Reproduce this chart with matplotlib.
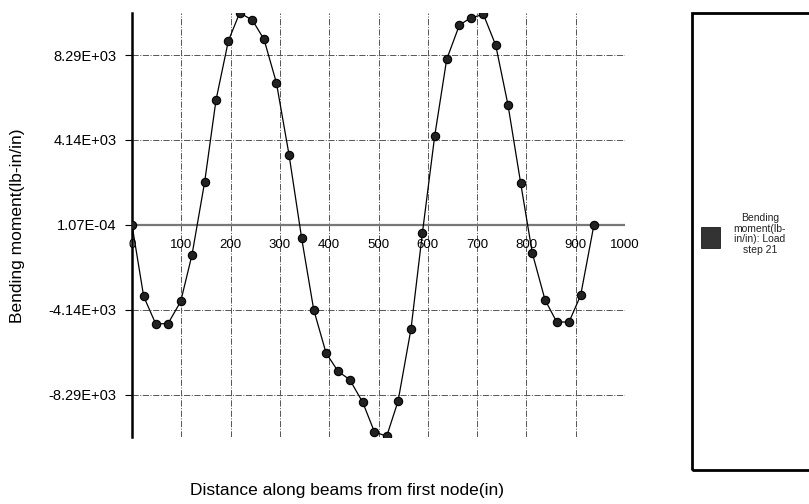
import matplotlib
matplotlib.use("Agg")
import matplotlib.pyplot as plt
from matplotlib.patches import Rectangle

plt.rcParams['font.family'] = ['Liberation Sans', 'DejaVu Sans']

# distance along beams (in) and bending moment (lb-in/in), load step 21
distance = [0, 23.7, 48, 73, 98.8, 121.7, 147.5, 170.4, 195.5, 218.5,
            244.2, 267.8, 292.9, 318.5, 344.2, 368.6, 393.6, 418, 441.6, 468,
            491.7, 516.6, 539.6, 566, 589, 614, 638.3, 664, 687, 712.8,
            737.7, 762.7, 788.4, 812, 837.7, 861.5, 886.4, 910, 937]
moment = [0, -3496, -4828, -4828, -3740, -1463, 2111, 6096, 8988, 10353,
          9997, 9055, 6939, 3428, -665, -4145, -6257, -7154, -7558, -8665,
          -10110, -10323, -8616, -5071, -405, 4340, 8080, 9753, 10109, 10274,
          8777, 5852, 2033, -1380, -3657, -4745, -4745, -3447, 0]

xticks = [0, 100, 200, 300, 400, 500, 600, 700, 800, 900, 1000]
yticks = [-8290, -4145, 0, 4145, 8290]
ytick_labels = ["-8.29E+03", "-4.14E+03", "1.07E-04", "4.14E+03", "8.29E+03"]
legend_label = "Bending\nmoment(lb-\nin/in): Load\nstep 21"

fig = plt.figure(figsize=(8.09, 5.04), dpi=100)
ax = fig.add_axes([132/809, 67/504, 493/809, 424.3/504])

ax.set_xlim(0, 1000)
ax.set_ylim(-10360, 10360)

# grid
for xv in xticks[1:]:
    ax.axvline(xv, color='#555555', lw=0.7, ls='-.', zorder=1)
for yv in yticks:
    if yv != 0:
        ax.axhline(yv, color='#555555', lw=0.7, ls='-.', zorder=1)
ax.axhline(0, color='#777777', lw=1.6, zorder=2)

ax.plot(distance, moment, color='black', lw=0.9, marker='o', ms=6,
        mfc='#222222', mec='black', mew=0.8, zorder=3)

for s in ['top', 'right', 'bottom']:
    ax.spines[s].set_visible(False)
ax.spines['left'].set_linewidth(1.8)
ax.spines['left'].set_color('black')

ax.set_yticks(yticks)
ax.set_yticklabels(ytick_labels, fontsize=10.5)
ax.tick_params(axis='y', length=5, width=0.8, pad=6)
ax.set_xticks([])
for xv in xticks:
    ax.text(xv, -700, str(xv), ha='center', va='top', fontsize=9.5)

fig.text(18/809, 1 - 226/504, "Bending moment(lb-in/in)", rotation=90,
         ha='center', va='center', fontsize=12.5)
fig.text(347/809, 1 - 490/504, "Distance along beams from first node(in)",
         ha='center', va='center', fontsize=12.5)

# legend box
fig.patches.append(Rectangle((692/809, 34/504), 0.3, 457.3/504, transform=fig.transFigure,
                             fill=False, ec='black', lw=2))
fig.patches.append(Rectangle((701/809, 1 - 248/504), 19/809, 21/504,
                             transform=fig.transFigure, fc='#333333', ec='black', lw=0.5))
fig.text(760/809, 1 - 234/504, legend_label, ha='center', va='center',
         fontsize=7.5, linespacing=1.1, color='#222222')

fig.savefig("out.png", dpi=100)
